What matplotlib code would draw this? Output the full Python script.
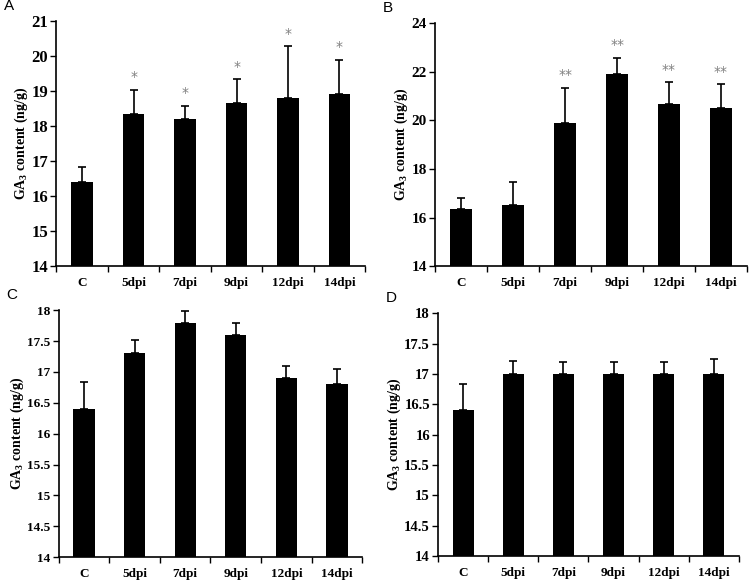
import numpy as np
import matplotlib
matplotlib.use("Agg")
import matplotlib.pyplot as plt
from matplotlib.ticker import FuncFormatter, MultipleLocator

plt.rcParams['font.family'] = 'Liberation Serif'
plt.rcParams['mathtext.fontset'] = 'custom'
plt.rcParams['mathtext.rm'] = 'Liberation Serif'
plt.rcParams['mathtext.bf'] = 'Liberation Serif:bold'

categories = ['C', '5dpi', '7dpi', '9dpi', '12dpi', '14dpi']

a_means = [16.4, 18.35, 18.18, 18.65, 18.8, 18.9]
a_errs = [0.43, 0.68, 0.39, 0.68, 1.47, 0.98]
a_stars = ['', '*', '*', '*', '*', '*']

b_means = [16.37, 16.5, 19.88, 21.9, 20.67, 20.5]
b_errs = [0.45, 0.98, 1.47, 0.67, 0.9, 0.98]
b_stars = ['', '', '**', '**', '**', '**']

c_means = [16.4, 17.3, 17.8, 17.6, 16.9, 16.8]
c_errs = [0.44, 0.22, 0.19, 0.2, 0.19, 0.25]

d_means = [16.4, 17.0, 17.0, 17.0, 17.0, 17.0]
d_errs = [0.44, 0.22, 0.19, 0.2, 0.19, 0.24]

fig = plt.figure(figsize=(7.53, 5.81), dpi=100)

# [left, bottom, width, height], ylim, ystep, tick font size
panels = [
    ('A', [0.075, 0.543, 0.410, 0.421], a_means, a_errs, a_stars, (14, 21), 1, 12),
    ('B', [0.578, 0.542, 0.414, 0.418], b_means, b_errs, b_stars, (14, 24), 2, 11),
    ('C', [0.078, 0.041, 0.403, 0.425], c_means, c_errs, None, (14, 18), 0.5, 9.5),
    ('D', [0.582, 0.043, 0.399, 0.418], d_means, d_errs, None, (14, 18), 0.5, 10.5),
]

for letter, rect, means, errs, stars, ylim, step, fs in panels:
    ax = fig.add_axes(rect)
    x = np.arange(len(categories))
    ax.bar(x, means, width=0.42, color='black', zorder=2)
    ax.errorbar(x, means, yerr=[np.zeros(len(errs)), errs], fmt='none',
                ecolor='black', elinewidth=1.2, capsize=3, capthick=1.2, zorder=3)
    if stars:
        for xi, m, e, s in zip(x, means, errs, stars):
            if s:
                ax.annotate(s, (xi, m + e), xytext=(0, 4), textcoords='offset points',
                            ha='center', va='bottom', color='#808080', fontsize=10,
                            family='DejaVu Sans')
    ax.set_xlim(-0.5, len(categories) - 0.5)
    ax.set_ylim(*ylim)
    ax.yaxis.set_major_locator(MultipleLocator(step))
    ax.yaxis.set_major_formatter(FuncFormatter(lambda v, p: '%g' % v))
    ax.set_xticks(x)
    ax.set_xticklabels(categories, fontweight='bold', fontsize=9.5)
    ax.set_xticks(np.arange(-0.5, len(categories)), minor=True)
    ax.tick_params(axis='x', which='major', length=0, pad=8)
    ax.tick_params(axis='x', which='minor', length=4, width=1, direction='out')
    ax.tick_params(axis='y', length=4, width=1, direction='out', labelsize=fs, pad=2)
    for lab in ax.get_yticklabels():
        lab.set_fontweight('bold')
    ax.spines['top'].set_visible(False)
    ax.spines['right'].set_visible(False)
    ax.spines['left'].set_linewidth(1.2)
    ax.spines['bottom'].set_linewidth(1.2)
    ax.set_ylabel(r'GA$_{\mathbf{3}}$ content (ng/g)', fontsize=10,
                  fontweight='bold', labelpad=1)
    fig.text(rect[0] - 0.07, rect[1] + rect[3] + 0.014, letter,
             family='Liberation Sans', fontsize=11, va='bottom', ha='left')

fig.savefig('out.png', dpi=100)
